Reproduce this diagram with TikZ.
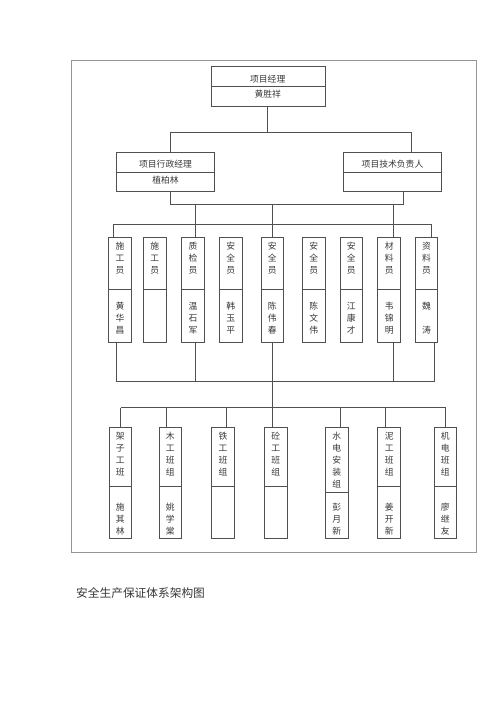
\documentclass[tikz,border=0pt]{standalone}
\usepackage{fontspec}
\newfontfamily\cjk{Noto Sans CJK SC}
\definecolor{linec}{RGB}{80,80,80}
\definecolor{framec}{RGB}{150,150,150}
\definecolor{textc}{RGB}{55,55,55}
\tikzset{
  ln/.style={draw=linec, line width=0.9pt},
  cell/.style={draw=linec, line width=0.9pt, rectangle, inner sep=0pt, outer sep=0pt},
  txt/.style={text=textc, font=\cjk\fontsize{8.8}{12}\selectfont, align=center, inner sep=0pt},
}
% #1 name, #2 left x, #3 right x, #4 top y, #5 divider y, #6 bottom y, #7 top text, #8 first char y of lower text, #9 lower text
\newcommand{\orgcol}[9]{%
  \node[cell, minimum width={#3-#2}, minimum height={#5-#4}] (#1t) at ({(#2+#3)/2},{(#4+#5)/2}) {};
  \node[cell, minimum width={#3-#2}, minimum height={#6-#5}] (#1b) at ({(#2+#3)/2},{(#5+#6)/2}) {};
  \node[txt, anchor=north] (#1tl) at ({(#2+#3)/2},{#4+5}) {#7};
  \node[txt, anchor=north] (#1bl) at ({(#2+#3)/2},{#8-4.4}) {#9};
}
\begin{document}
\begin{tikzpicture}[x=1pt,y=-1pt]
\useasboundingbox (0,0) rectangle (500,707);
% frame
\draw[draw=framec, line width=0.9pt] (71,60) rectangle (476.5,552.3);
% top box
\node[cell, minimum width=114, minimum height=20] (pmA) at (268.7,76.7) {};
\node[cell, minimum width=114, minimum height=19.3] (pmB) at (268.7,96.35) {};
\node[txt] (pmAl) at (267.7,79.3) {项目经理};
\node[txt] (pmBl) at (267.7,94.3) {黄胜祥};
% second level
\node[cell, minimum width=97.6, minimum height=20] (admA) at (165.5,162.3) {};
\node[cell, minimum width=97.6, minimum height=18.7] (admB) at (165.5,181.65) {};
\node[txt] (admAl) at (165.5,164.3) {项目行政经理};
\node[txt] (admBl) at (165.5,179.7) {植柏林};
\node[cell, minimum width=98.4, minimum height=20] (tecA) at (392.5,162.3) {};
\node[cell, minimum width=98.4, minimum height=18.7] (tecB) at (392.5,181.65) {};
\node[txt] (tecAl) at (392.5,164.3) {项目技术负责人};
% staff row
\orgcol{sa}{108.3}{131.7}{237.3}{289.3}{342.3}{施\\工\\员}{306}{黄\\华\\昌}
\orgcol{sb}{143.3}{166}{237.3}{289.3}{342.3}{施\\工\\员}{306}{}
\orgcol{sc}{181.7}{204.3}{237.3}{289.3}{342.3}{质\\检\\员}{306}{温\\石\\军}
\orgcol{sd}{219.3}{242}{237.3}{289.3}{342.3}{安\\全\\员}{306}{韩\\玉\\平}
\orgcol{se}{261}{283.3}{237.3}{289.3}{342.3}{安\\全\\员}{306}{陈\\伟\\春}
\orgcol{sf}{302.3}{325}{237.3}{289.3}{342.3}{安\\全\\员}{306}{陈\\文\\伟}
\orgcol{sg}{340}{362.7}{237.3}{289.3}{342.3}{安\\全\\员}{306}{江\\康\\才}
\orgcol{sh}{377.7}{400.7}{237.3}{289.3}{342.3}{材\\料\\员}{306}{韦\\锦\\明}
\orgcol{si}{415.3}{437.7}{237.3}{289.3}{342.3}{资\\料\\员}{306}{魏\\\mbox{}\\涛}
% team row
\orgcol{ga}{109}{131.7}{427.3}{486.7}{538.3}{架\\子\\工\\班}{507.3}{施\\其\\林}
\orgcol{gb}{159}{181.7}{427.3}{486.7}{538.3}{木\\工\\班\\组}{507.3}{姚\\学\\棠}
\orgcol{gc}{211.7}{234.3}{427.3}{486.7}{538.3}{铁\\工\\班\\组}{507.3}{}
\orgcol{gd}{264.3}{287}{427.3}{486.7}{538.3}{砼\\工\\班\\组}{507.3}{}
\orgcol{ge}{325}{348.3}{427.3}{492.7}{538.3}{水\\电\\安\\装\\组}{507.3}{彭\\月\\新}
\orgcol{gf}{377.7}{400.7}{427.3}{486.7}{538.3}{泥\\工\\班\\组}{507.3}{姜\\开\\新}
\orgcol{gg}{434}{456.7}{427.3}{486.7}{538.3}{机\\电\\班\\组}{507.3}{廖\\继\\友}
% connectors: level 1 -> level 2
\coordinate (a1) at (267.7,132.3);
\coordinate (a2) at (170,132.3);
\coordinate (a3) at (411,132.3);
\draw[ln] (pmB.south -| a1) -- (a1);
\draw[ln] (a2) -- (a3);
\draw[ln] (a2) -- (a2 |- admA.north);
\draw[ln] (a3) -- (a3 |- tecA.north);
% level 2 -> staff
\coordinate (b1) at (170,204.3);
\coordinate (b2) at (403.3,204.3);
\draw[ln] (admB.south -| b1) -- (b1) -- (b2) -- (tecB.south -| b2);
\coordinate (c1) at (195,204.3);
\coordinate (c2) at (272.3,204.3);
\coordinate (c3) at (393.3,204.3);
\coordinate (d0) at (113.3,224);
\coordinate (d9) at (431,224);
\draw[ln] (c1) -- (c1 |- d0);
\draw[ln] (c2) -- (c2 |- d0);
\draw[ln] (c3) -- (c3 |- d0);
\draw[ln] (d0) -- (d9);
\draw[ln] (d0) -- (d0 |- sat.north);
\draw[ln] (c1 |- d0) -- (c1 |- sct.north);
\draw[ln] (c2 |- d0) -- (c2 |- set.north);
\draw[ln] (c3 |- d0) -- (c3 |- sht.north);
\draw[ln] (d9) -- (d9 |- sit.north);
% staff -> collection bus
\coordinate (e1) at (116.7,381.7);
\coordinate (e9) at (434.3,381.7);
\draw[ln] (sab.south -| e1) -- (e1) -- (e9) -- (sib.south -| e9);
\draw[ln] (scb.south -| c1) -- (c1 |- e1);
\draw[ln] (seb.south -| c2) -- (c2 |- e1);
\draw[ln] (shb.south -| c3) -- (c3 |- e1);
% collection bus -> teams
\coordinate (f0) at (120.7,407.5);
\coordinate (f9) at (445.7,407.5);
\draw[ln] (c2 |- e1) -- (c2 |- f0);
\draw[ln] (f0) -- (f9);
\draw[ln] (f0) -- (f0 |- gat.north);
\coordinate (f2) at (166.7,407.5);
\coordinate (f3) at (226.7,407.5);
\coordinate (f5) at (340,407.5);
\coordinate (f6) at (385.7,407.5);
\draw[ln] (f2) -- (f2 |- gbt.north);
\draw[ln] (f3) -- (f3 |- gct.north);
\draw[ln] (c2 |- f0) -- (c2 |- gdt.north);
\draw[ln] (f5) -- (f5 |- get.north);
\draw[ln] (f6) -- (f6 |- gft.north);
\draw[ln] (f9) -- (f9 |- ggt.north);
% caption
\node[anchor=west, inner sep=0pt, text=textc, font=\cjk\fontsize{11.7}{14}\selectfont] (cap) at (76,592.7) {安全生产保证体系架构图};
\end{tikzpicture}
\end{document}
